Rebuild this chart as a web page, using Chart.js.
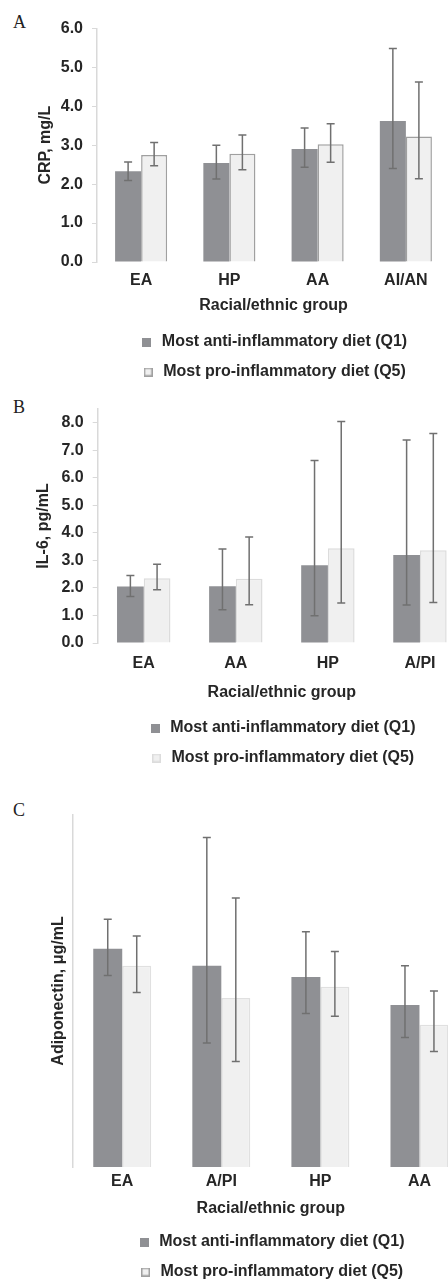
<!DOCTYPE html>
<html>
<head>
<meta charset="utf-8">
<script src="https://cdn.jsdelivr.net/npm/chart.js@4.4.1/dist/chart.umd.min.js"></script>
<style>
  html, body { margin: 0; padding: 0; background: #fff; overflow: hidden; }
  body { width: 448px; height: 1282px; position: relative; }
  canvas { position: absolute; left: 0; }
  .panel { position: absolute; left: 13px; font-family: "Liberation Serif", "Times New Roman", serif; font-size: 18px; color: #222; line-height: 1; }
</style>
</head>
<body>
<div class="panel" style="top:13px">A</div>
<div class="panel" style="top:398px">B</div>
<div class="panel" style="top:801px">C</div>
<canvas id="chartA" width="450" height="390" style="top:0px"></canvas>
<canvas id="chartB" width="466" height="386" style="top:390px"></canvas>
<canvas id="chartC" width="469" height="520" style="top:770px"></canvas>
<script>
"use strict"
//Data
const seriesNames = ["Most anti-inflammatory diet (Q1)", "Most pro-inflammatory diet (Q5)"];

//A - CRP
const catsA = ["EA", "HP", "AA", "AI/AN"];
const ticksA = [0, 1, 2, 3, 4, 5, 6];
const crpQ1 = [2.33, 2.54, 2.90, 3.62];
const crpQ1Lo = [2.09, 2.13, 2.43, 2.40];
const crpQ1Hi = [2.57, 3.00, 3.44, 5.48];
const crpQ5 = [2.75, 2.78, 3.02, 3.22];
const crpQ5Lo = [2.47, 2.37, 2.56, 2.14];
const crpQ5Hi = [3.07, 3.26, 3.55, 4.62];

//B - IL-6
const catsB = ["EA", "AA", "HP", "A/PI"];
const ticksB = [0, 1, 2, 3, 4, 5, 6, 7, 8];
const il6Q1 = [2.05, 2.06, 2.82, 3.20];
const il6Q1Lo = [1.69, 1.21, 0.99, 1.38];
const il6Q1Hi = [2.45, 3.41, 6.63, 7.37];
const il6Q5 = [2.35, 2.33, 3.44, 3.37];
const il6Q5Lo = [1.93, 1.39, 1.45, 1.47];
const il6Q5Hi = [2.86, 3.85, 8.05, 7.61];

//C - Adiponectin (no tick labels in the figure, values estimated)
const catsC = ["EA", "A/PI", "HP", "AA"];
const ticksC = [];
const adQ1 = [15.5, 14.3, 13.5, 11.5];
const adQ1Lo = [13.6, 8.8, 10.9, 9.2];
const adQ1Hi = [17.6, 23.4, 16.7, 14.3];
const adQ5 = [14.3, 12.0, 12.8, 10.1];
const adQ5Lo = [12.4, 7.5, 10.7, 8.2];
const adQ5Hi = [16.4, 19.1, 15.3, 12.5];

const darkBar = "#8f9094";
const lightBar = "#f0f0f0";
const errColor = "#707070";
const axisColor = "#d9d9d9";
const textColor = "#262626";
const fontFamily = "'Liberation Sans', Arial, sans-serif";

//Plugin for error bars, uses the bars and the y scale of the chart
const errorBars = {
    id: "errorBars",
    afterDatasetsDraw(chart) {
        const ctx = chart.ctx;
        const yScale = chart.scales.y;
        ctx.save();
        ctx.strokeStyle = errColor;
        ctx.lineWidth = 1.5;
        chart.data.datasets.forEach((ds, i) => {
            const meta = chart.getDatasetMeta(i);
            meta.data.forEach((bar, j) => {
                const top = yScale.getPixelForValue(ds.errHi[j]);
                const bottom = yScale.getPixelForValue(ds.errLo[j]);
                const x = bar.x;
                ctx.beginPath();
                ctx.moveTo(x, top);
                ctx.lineTo(x, bottom);
                ctx.moveTo(x - 4, top);
                ctx.lineTo(x + 4, top);
                ctx.moveTo(x - 4, bottom);
                ctx.lineTo(x + 4, bottom);
                ctx.stroke();
            });
        });
        ctx.restore();
    }
};

//small square used as legend marker (gives the wider gap before the text)
function legendSquare(fill, stroke) {
    const c = document.createElement("canvas");
    c.width = 9;
    c.height = 9;
    const g = c.getContext("2d");
    g.fillStyle = fill;
    g.fillRect(0, 0, 9, 9);
    if (stroke) {
        g.strokeStyle = stroke;
        g.lineWidth = 1.5;
        g.strokeRect(0.75, 0.75, 7.5, 7.5);
    }
    return c;
}

function makeChart(id, cfg) {
    const font = { family: fontFamily, size: 16, weight: "bold" };
    const markers = [legendSquare(darkBar, null), legendSquare(lightBar, cfg.legendBorder)];
    return new Chart(document.getElementById(id), {
        type: "bar",
        data: {
            labels: cfg.labels,
            datasets: [
                {
                    label: seriesNames[0],
                    data: cfg.q1,
                    errLo: cfg.q1Lo,
                    errHi: cfg.q1Hi,
                    backgroundColor: darkBar,
                    borderWidth: 0
                },
                {
                    label: seriesNames[1],
                    data: cfg.q5,
                    errLo: cfg.q5Lo,
                    errHi: cfg.q5Hi,
                    backgroundColor: lightBar,
                    borderColor: cfg.q5Border,
                    borderWidth: 1.5
                }
            ]
        },
        options: {
            responsive: false,
            animation: false,
            events: [],
            categoryPercentage: cfg.groupWidth,
            barPercentage: 1.0,
            layout: { padding: { top: cfg.padTop, left: 0, right: 0, bottom: 0 } },
            scales: {
                x: {
                    grid: { display: false, drawTicks: false },
                    border: { display: false },
                    ticks: { color: textColor, font: font, padding: cfg.xTickPad },
                    title: {
                        display: true,
                        text: "Racial/ethnic group",
                        color: textColor,
                        font: font,
                        padding: { top: 0, bottom: cfg.xTitlePad }
                    },
                    afterFit: s => { s.height = cfg.xHeight; }
                },
                y: {
                    min: 0,
                    max: cfg.yMax,
                    grid: {
                        display: cfg.yTicks.length > 0,
                        drawOnChartArea: false,
                        drawTicks: true,
                        tickLength: 5,
                        color: axisColor
                    },
                    border: { display: true, color: axisColor, width: 1.5 },
                    ticks: {
                        display: cfg.yTicks.length > 0,
                        padding: 9,
                        color: textColor,
                        font: font,
                        callback: v => v.toFixed(1)
                    },
                    afterBuildTicks: s => { s.ticks = cfg.yTicks.map(v => ({ value: v })); },
                    title: {
                        display: true,
                        text: cfg.yTitle,
                        color: textColor,
                        font: font,
                        padding: { top: cfg.yTitlePad, bottom: 0 }
                    },
                    afterFit: s => { s.width = cfg.yWidth; }
                }
            },
            plugins: {
                legend: {
                    position: "bottom",
                    fullSize: false,
                    labels: {
                        color: textColor,
                        font: font,
                        usePointStyle: true,
                        pointStyleWidth: 14,
                        boxHeight: 9,
                        padding: 14,
                        generateLabels: chart => chart.data.datasets.map((ds, i) => ({
                            text: ds.label,
                            fillStyle: ds.backgroundColor,
                            strokeStyle: ds.backgroundColor,
                            lineWidth: 0,
                            pointStyle: markers[i],
                            fontColor: textColor,
                            datasetIndex: i
                        }))
                    }
                },
                tooltip: { enabled: false }
            }
        },
        plugins: [errorBars]
    });
}

makeChart("chartA", {
    labels: catsA, q1: crpQ1, q1Lo: crpQ1Lo, q1Hi: crpQ1Hi,
    q5: crpQ5, q5Lo: crpQ5Lo, q5Hi: crpQ5Hi,
    yTitle: "CRP, mg/L", yMax: 6, yTicks: ticksA,
    groupWidth: 0.59, q5Border: "#a0a0a0", legendBorder: "#a0a0a0",
    padTop: 28.3, yWidth: 97, yTitlePad: 35.5,
    xHeight: 58, xTickPad: 9.4, xTitlePad: 4.4
});

makeChart("chartB", {
    labels: catsB, q1: il6Q1, q1Lo: il6Q1Lo, q1Hi: il6Q1Hi,
    q5: il6Q5, q5Lo: il6Q5Lo, q5Hi: il6Q5Hi,
    yTitle: "IL-6, pg/mL", yMax: 8.5, yTicks: ticksB,
    groupWidth: 0.58, q5Border: "#dcdcdc", legendBorder: "#dcdcdc",
    padTop: 19, yWidth: 97.7, yTitlePad: 33.7,
    xHeight: 63, xTickPad: 10.7, xTitlePad: 3.7
});

makeChart("chartC", {
    labels: catsC, q1: adQ1, q1Lo: adQ1Lo, q1Hi: adQ1Hi,
    q5: adQ5, q5Lo: adQ5Lo, q5Hi: adQ5Hi,
    yTitle: "Adiponectin, μg/mL", yMax: 25, yTicks: ticksC,
    groupWidth: 0.585, q5Border: "#e0e0e0", legendBorder: "#a0a0a0",
    padTop: 45, yWidth: 72.7, yTitlePad: 48.7,
    xHeight: 53, xTickPad: 5.1, xTitlePad: 1.4
});
</script>
</body>
</html>
